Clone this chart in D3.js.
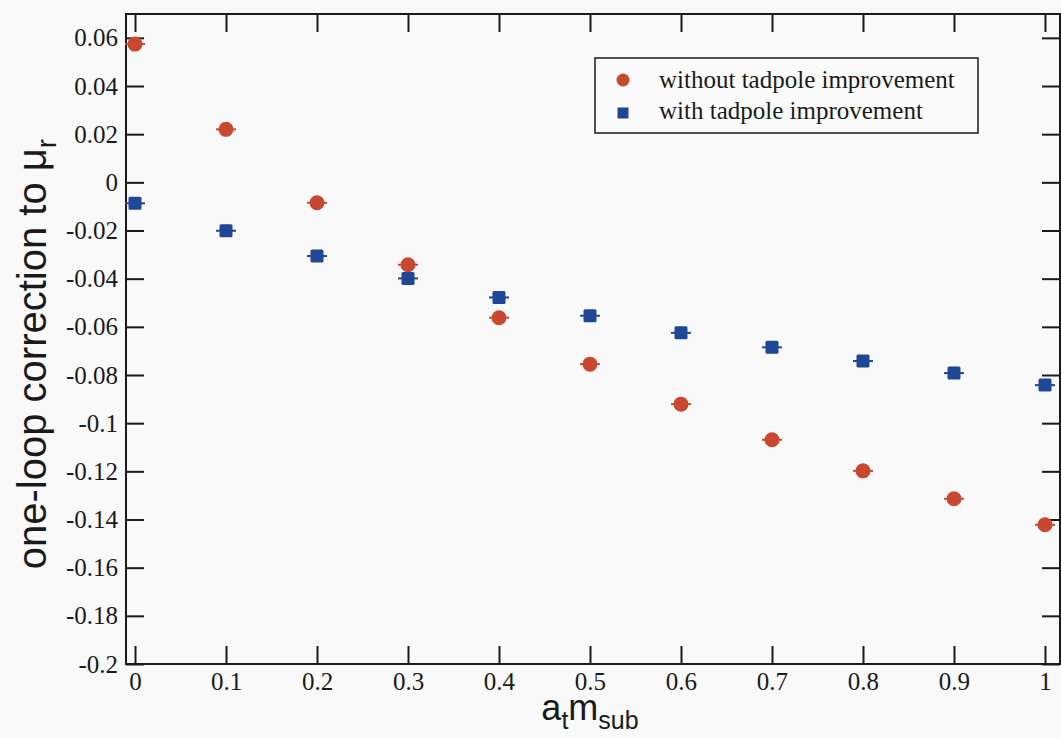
<!DOCTYPE html>
<html>
<head>
<meta charset="utf-8">
<script src="https://cdn.jsdelivr.net/npm/d3@7"></script>
<style>
  html, body { margin: 0; padding: 0; background: #f9f9fa; }
  svg { display: block; }
</style>
</head>
<body>
<svg id="chart" width="1061" height="738"></svg>
<script>
// Subtracted mass values (lattice units)
const mass = [0, 0.1, 0.2, 0.3, 0.4, 0.5, 0.6, 0.7, 0.8, 0.9, 1.0];
// One-loop correction to mu_r, bare perturbation theory
const withoutTadpole = [0.0574, 0.0220, -0.0085, -0.0342, -0.0562, -0.0755, -0.0921, -0.1069, -0.1198, -0.1314, -0.1422];
// One-loop correction to mu_r, tadpole-improved
const withTadpole = [-0.0087, -0.0201, -0.0306, -0.0399, -0.0478, -0.0554, -0.0625, -0.0685, -0.0742, -0.0792, -0.0842];
// Axis ticks
const xTicks = [0, 0.1, 0.2, 0.3, 0.4, 0.5, 0.6, 0.7, 0.8, 0.9, 1];
const yTicks = [0.06, 0.04, 0.02, 0, -0.02, -0.04, -0.06, -0.08, -0.1, -0.12, -0.14, -0.16, -0.18, -0.2];
const seriesNames = ["without tadpole improvement", "with tadpole improvement"];

const svg = d3.select("#chart");
const plotLeft = 126, plotRight = 1060, plotTop = 14, plotBottom = 664;

const x = d3.scaleLinear().domain([-0.0099, 1.0165]).range([plotLeft, plotRight]);
const y = d3.scaleLinear().domain([-0.2, 0.0699]).range([plotBottom, plotTop]);

const red = "#c8492f", blue = "#1f4796", ink = "#1a1a1a";
const serif = "'Liberation Serif', 'Times New Roman', serif";
const sans = "'Liberation Sans', Arial, sans-serif";
const tickLen = 18;

const fmt = v => String(+v.toFixed(2));

// Ticks on all four sides, pointing inward
const axisG = svg.append("g");
const bottomAxis = d3.axisBottom(x).tickValues(xTicks).tickSize(-tickLen).tickPadding(8).tickFormat(fmt);
const topAxis = d3.axisTop(x).tickValues(xTicks).tickSize(-tickLen).tickFormat("");
const leftAxis = d3.axisLeft(y).tickValues(yTicks).tickSize(-tickLen).tickPadding(8).tickFormat(fmt);
const rightAxis = d3.axisRight(y).tickValues(yTicks).tickSize(-tickLen).tickFormat("");

axisG.append("g").attr("transform", `translate(0,${plotBottom})`).call(bottomAxis);
axisG.append("g").attr("transform", `translate(0,${plotTop})`).call(topAxis);
axisG.append("g").attr("transform", `translate(${plotLeft},0)`).call(leftAxis);
axisG.append("g").attr("transform", `translate(${plotRight},0)`).call(rightAxis);

axisG.selectAll(".domain").remove();
axisG.selectAll(".tick line").attr("stroke", ink).attr("stroke-width", 2);
axisG.selectAll(".tick text")
  .attr("fill", ink)
  .style("font-family", serif)
  .style("font-size", "25px");

// Frame
svg.append("rect")
  .attr("x", plotLeft).attr("y", plotTop)
  .attr("width", plotRight - plotLeft).attr("height", plotBottom - plotTop)
  .attr("fill", "none").attr("stroke", ink).attr("stroke-width", 2);

// Data markers with short error-bar caps
const capHalf = 10;
function drawCaps(g, vals, color) {
  g.selectAll("line.cap").data(vals).join("line")
    .attr("class", "cap")
    .attr("x1", (d, i) => x(mass[i]) - capHalf)
    .attr("x2", (d, i) => x(mass[i]) + capHalf)
    .attr("y1", d => y(d)).attr("y2", d => y(d))
    .attr("stroke", color).attr("stroke-width", 2);
}

const gBlue = svg.append("g");
drawCaps(gBlue, withTadpole, blue);
gBlue.selectAll("rect.pt").data(withTadpole).join("rect")
  .attr("class", "pt")
  .attr("x", (d, i) => x(mass[i]) - 6.5)
  .attr("y", d => y(d) - 6.5)
  .attr("width", 13).attr("height", 13)
  .attr("rx", 1.5)
  .attr("fill", blue);

const gRed = svg.append("g");
drawCaps(gRed, withoutTadpole, red);
gRed.selectAll("circle.pt").data(withoutTadpole).join("circle")
  .attr("class", "pt")
  .attr("cx", (d, i) => x(mass[i]))
  .attr("cy", d => y(d))
  .attr("r", 7.5)
  .attr("fill", red);

// Legend
const lg = svg.append("g");
lg.append("rect")
  .attr("x", 595).attr("y", 58).attr("width", 383).attr("height", 75)
  .attr("fill", "#fbfbfc").attr("stroke", ink).attr("stroke-width", 1.5);
lg.append("circle").attr("cx", 623).attr("cy", 80).attr("r", 6.5).attr("fill", red);
lg.append("rect").attr("x", 617.5).attr("y", 107.5).attr("width", 11).attr("height", 11).attr("fill", blue);
lg.selectAll("text").data(seriesNames).join("text")
  .attr("x", 659)
  .attr("y", (d, i) => 88 + i * 31)
  .attr("fill", ink)
  .style("font-family", serif)
  .style("font-size", "25px")
  .text(d => d);

// Axis titles
const xt = svg.append("text")
  .attr("x", 590).attr("y", 720)
  .attr("text-anchor", "middle")
  .attr("fill", ink)
  .style("font-family", sans)
  .style("font-size", "36px");
xt.append("tspan").text("a");
xt.append("tspan").attr("dy", 9).style("font-size", "25px").text("t");
xt.append("tspan").attr("dy", -9).text("m");
xt.append("tspan").attr("dy", 9).style("font-size", "25px").text("sub");

const yt = svg.append("text")
  .attr("transform", "translate(46,354) rotate(-90)")
  .attr("text-anchor", "middle")
  .attr("fill", ink)
  .style("font-family", sans)
  .style("font-size", "40px");
yt.append("tspan").text("one-loop correction to μ");
yt.append("tspan").attr("dy", 10).style("font-size", "28px").text("r");
</script>
</body>
</html>
